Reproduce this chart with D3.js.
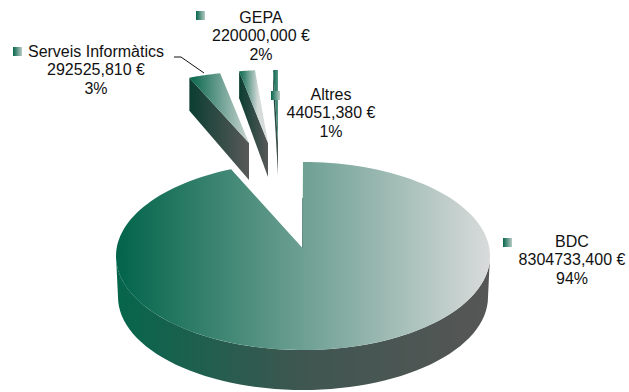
<!DOCTYPE html>
<html><head><meta charset="utf-8">
<script src="https://cdn.jsdelivr.net/npm/d3@7"></script>
<style>html,body{margin:0;padding:0;background:#fff}svg{display:block}text{font-family:"Liberation Sans",Arial,sans-serif;font-size:16px;fill:#111;text-anchor:middle}</style>
</head><body><svg id="c" width="629" height="392"></svg>
<script>
const categories=["BDC","Serveis Informàtics","GEPA","Altres"];
const values=[8304733.4,292525.81,220000,44051.38];
const valueLabels=["8304733,400 €","292525,810 €","220000,000 €","44051,380 €"];
const percentLabels=["94%","3%","2%","1%"];

// layout
const main={cx:303,cy:256,rx:187,ry:94,ax:302.5,ay:248,depth:41,bottomRx:185,bottomRy:93};
const shards=[null,
 {ax:249,ay:143,rx:155,ry:75,cyOff:4,depth:37,trim:0,bl:33,fade:62},
 {ax:268,ay:143,rx:155,ry:75,cyOff:2,depth:34,trim:3,bl:27,fade:19},
 {ax:278,ay:143,rx:155,ry:75,cyOff:2,depth:32,trim:0,bl:20,fade:12}];
const labels=[
 {x:572,y:247,sx:503,sy:238},
 {x:96,y:57,sx:13,sy:47},
 {x:261,y:23,sx:196,sy:11},
 {x:331,y:100,sx:271,sy:91}];

const svg=d3.select("#c"), defs=svg.append("defs");
function grad(id,x1,x2,stops){
  const g=defs.append("linearGradient").attr("id",id).attr("gradientUnits","userSpaceOnUse")
    .attr("x1",x1).attr("x2",x2).attr("y1",0).attr("y2",0);
  stops.forEach(([o,c])=>g.append("stop").attr("offset",o).attr("stop-color",c));
  return `url(#${id})`;
}
const pie=d3.pie().sort(null)(values);
const pt=(p,a)=>[p.cx+p.rx*Math.sin(a),p.cy-p.ry*Math.cos(a)];
const arcPts=(p,a0,a1,n=60)=>d3.range(n+1).map(i=>pt(p,a0+(a1-a0)*i/n));
const line=d3.line();

// main wall
const bot={cx:main.cx,cy:main.cy+main.depth,rx:main.bottomRx,ry:main.bottomRy};
const wallPts=arcPts(main,Math.PI/2+0.05,Math.PI*1.5-0.05).concat(arcPts(bot,Math.PI*1.5-0.05,Math.PI/2+0.05));
svg.append("path").attr("d",line(wallPts)+"Z").attr("fill",grad("w0",main.cx-main.rx,main.cx+main.rx,[[0,"#05664c"],[0.5,"#3f5650"],[1,"#565656"]]));
// main top
const m=pie[0];
svg.append("path").attr("d",line([[main.ax,main.ay]].concat(arcPts(main,m.startAngle,m.endAngle,160)))+"Z")
  .attr("fill",grad("t0",main.cx-main.rx,main.cx+main.rx,[[0,"#01644a"],[1,"#d9dbdb"]]));
svg.append("line").attr("x1",main.ax).attr("x2",main.ax).attr("y1",main.ay).attr("y2",main.ay-50).attr("stroke","#3f6f63").attr("stroke-opacity",0.7).attr("stroke-width",1);

// exploded shards
[1,2,3].forEach(i=>{
  const s=shards[i],d=pie[i];
  const p={cx:s.ax,cy:s.ay+s.cyOff,rx:s.rx,ry:s.ry};
  const a0=d.startAngle,a1=d.endAngle-s.trim*Math.PI/180;
  const top=arcPts(p,a0,a1,12);
  const x0=top[0][0];
  svg.append("path").attr("d",line([top[0],[s.ax,s.ay],[s.ax,s.ay+s.depth],[x0,top[0][1]+s.bl]])+"Z")
    .attr("fill",grad("sw"+i,x0,s.ax+1,[[0,"#0b3d31"],[1,"#5a5a5a"]]));
  svg.append("path").attr("d",line([[s.ax,s.ay]].concat(top))+"Z")
    .attr("fill",grad("st"+i,x0,x0+s.fade,[[0,"#05654b"],[1,"#d5dbd9"]]));
});

// leader
svg.append("path").attr("d",line(d3.zip([174,181,204],[57,57,73]))).attr("fill","none").attr("stroke","#111").attr("stroke-width",1);

// labels
const sw=grad("sw","0","1",[[0,"#05654b"],[1,"#b8cbc5"]]);
defs.select("#sw").attr("gradientUnits","objectBoundingBox");
categories.forEach((c,i)=>{
  const l=labels[i];
  svg.append("rect").attr("x",l.sx).attr("y",l.sy).attr("width",9).attr("height",9).attr("fill",sw);
  [c,valueLabels[i],percentLabels[i]].forEach((t,j)=>
    svg.append("text").attr("x",l.x).attr("y",l.y+j*18.3).text(t));
});
</script></body></html>
